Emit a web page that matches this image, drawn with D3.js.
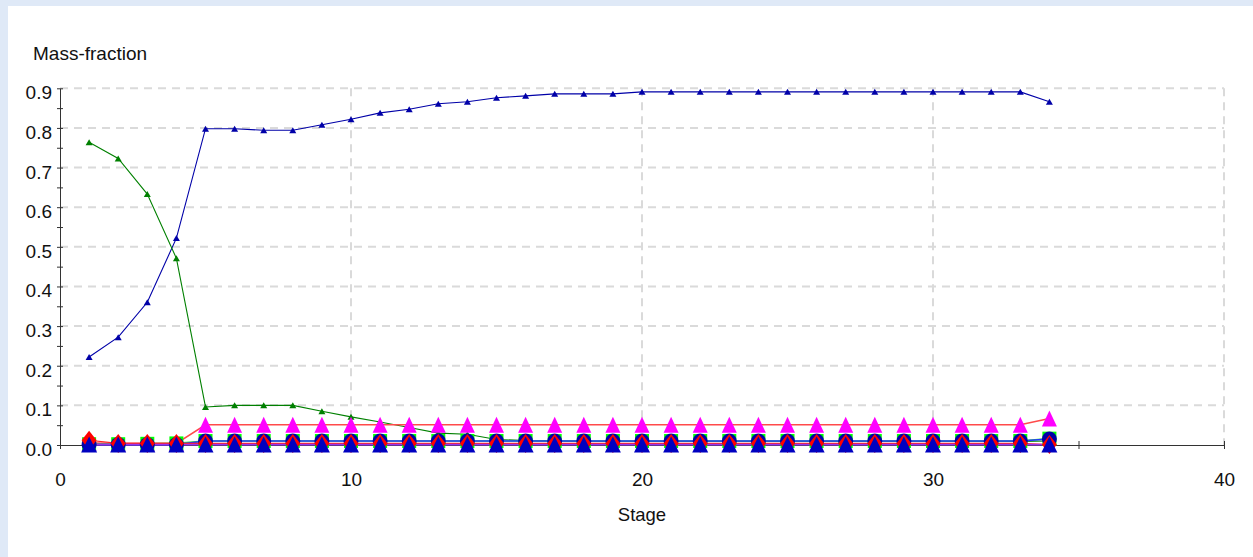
<!DOCTYPE html>
<html>
<head>
<meta charset="utf-8">
<script src="https://cdn.jsdelivr.net/npm/d3@7"></script>
<style>
  html, body { margin: 0; padding: 0; background: #dfe9f7; }
  svg { display: block; font-family: "Liberation Sans", Arial, sans-serif; }
</style>
</head>
<body>
<svg id="chart" width="1253" height="557"></svg>
<script>
// Stage numbers along the column
const stages = [1,2,3,4,5,6,7,8,9,10,11,12,13,14,15,16,17,18,19,20,21,22,23,24,25,26,27,28,29,30,31,32,33,34];

// Mass-fraction profiles per component
const seriesBlue = [0.222,0.272,0.360,0.522,0.798,0.798,0.794,0.794,0.808,0.822,0.838,0.847,0.861,0.866,0.876,0.881,0.886,0.886,0.886,0.891,0.891,0.891,0.891,0.891,0.891,0.891,0.891,0.891,0.891,0.891,0.891,0.891,0.891,0.866];
const seriesGreen = [0.764,0.723,0.633,0.471,0.096,0.100,0.100,0.100,0.085,0.071,0.058,0.044,0.030,0.027,0.014,0.011,0.010,0.009,0.009,0.009,0.009,0.009,0.009,0.009,0.009,0.009,0.009,0.009,0.009,0.009,0.009,0.009,0.009,0.010];
const seriesMagenta = [0.005,0.004,0.004,0.004,0.051,0.051,0.051,0.051,0.051,0.051,0.051,0.051,0.051,0.051,0.051,0.051,0.051,0.051,0.051,0.051,0.051,0.051,0.051,0.051,0.051,0.051,0.051,0.051,0.051,0.051,0.051,0.051,0.051,0.067];
const seriesLime = [0.002,0.002,0.003,0.004,0.010,0.010,0.010,0.010,0.010,0.010,0.010,0.010,0.010,0.010,0.010,0.010,0.010,0.010,0.010,0.010,0.010,0.010,0.010,0.010,0.010,0.010,0.010,0.010,0.010,0.010,0.010,0.010,0.010,0.016];
const seriesCircle = [0.001,0.001,0.001,0.001,0.010,0.010,0.010,0.010,0.010,0.010,0.010,0.010,0.010,0.010,0.010,0.010,0.010,0.010,0.010,0.010,0.010,0.010,0.010,0.010,0.010,0.010,0.010,0.010,0.010,0.010,0.010,0.010,0.010,0.015];
const seriesRed = [0.012,0.004,0.004,0.004,0.004,0.004,0.004,0.004,0.004,0.004,0.004,0.004,0.004,0.004,0.004,0.004,0.004,0.004,0.004,0.004,0.004,0.004,0.004,0.004,0.004,0.004,0.004,0.004,0.004,0.004,0.004,0.004,0.004,0.001];
const seriesBlueTri = [0.001,0.001,0.001,0.001,0.001,0.001,0.001,0.001,0.001,0.001,0.001,0.001,0.001,0.001,0.001,0.001,0.001,0.001,0.001,0.001,0.001,0.001,0.001,0.001,0.001,0.001,0.001,0.001,0.001,0.001,0.001,0.001,0.001,0.001];

// Axis ticks
const xTicks = [0,5,10,15,20,25,30,35,40];
const xLabels = [0,10,20,30,40];
const yTicks = [0,0.05,0.1,0.15,0.2,0.25,0.3,0.35,0.4,0.45,0.5,0.55,0.6,0.65,0.7,0.75,0.8,0.85,0.9];
const yLabels = [0,0.1,0.2,0.3,0.4,0.5,0.6,0.7,0.8,0.9];
const xGrid = [10,20,30,40];
const yGrid = [0.1,0.2,0.3,0.4,0.5,0.6,0.7,0.8,0.9];

const svg = d3.select("#chart");
svg.append("rect").attr("x", 8).attr("y", 6).attr("width", 1245).attr("height", 551).attr("fill", "#ffffff");

const x = d3.scaleLinear().domain([0, 40]).range([60, 1224]);
const y = d3.scaleLinear().domain([0, 0.9]).range([445, 88.3]);

// Dashed grid
const grid = svg.append("g").attr("stroke", "#dadada").attr("stroke-width", 2).attr("stroke-dasharray", "8,6");
grid.selectAll("line.h").data(yGrid).join("line").attr("class", "h")
  .attr("x1", x(0)).attr("x2", x(40)).attr("y1", d => y(d)).attr("y2", d => y(d));
grid.selectAll("line.v").data(xGrid).join("line").attr("class", "v")
  .attr("x1", d => x(d)).attr("x2", d => x(d)).attr("y1", y(0.9)).attr("y2", y(0));

// Axes
const fmtY = d3.format(".1f");
const yAxis = d3.axisLeft(y).tickValues(yTicks).tickSizeInner(3).tickSizeOuter(0).tickPadding(5)
  .tickFormat(d => yLabels.some(v => Math.abs(v - d) < 1e-9) ? fmtY(d) : "");
const gy = svg.append("g").attr("transform", `translate(${x(0)},0)`).call(yAxis);
gy.select(".domain").attr("stroke", "#333");
gy.selectAll(".tick line").attr("x1", 3).attr("x2", -3).attr("stroke", "#333");
gy.selectAll(".tick text").attr("font-size", 19).attr("fill", "#111").attr("dy", "0.55em")
  .attr("font-family", "Liberation Sans, Arial, sans-serif");

const xAxis = d3.axisBottom(x).tickValues(xTicks).tickSizeInner(4).tickSizeOuter(0).tickPadding(24)
  .tickFormat(d => xLabels.includes(d) ? String(d) : "");
const gx = svg.append("g").attr("transform", `translate(0,${y(0)})`).call(xAxis);
gx.select(".domain").attr("stroke", "#333");
gx.selectAll(".tick line").attr("y1", -4).attr("y2", 4).attr("stroke", "#333");
gx.selectAll(".tick text").attr("font-size", 19).attr("fill", "#111")
  .attr("font-family", "Liberation Sans, Arial, sans-serif");

svg.append("text").attr("x", 33).attr("y", 60).attr("font-size", 19).attr("fill", "#111").text("Mass-fraction");
svg.append("text").attr("x", x(20)).attr("y", 521).attr("text-anchor", "middle").attr("font-size", 18.5).attr("fill", "#111").text("Stage");

// Marker shapes
const tri = (w, h) => `M0,${-h / 2}L${w / 2},${h / 2}L${-w / 2},${h / 2}Z`;
const diamond = (w, h) => `M0,${-h}L${w},0L0,${h}L${-w},0Z`;
const square = s => `M${-s / 2},${-s / 2}h${s}v${s}h${-s}Z`;
const circle = r => `M${r},0A${r},${r} 0 1,1 ${-r},0A${r},${r} 0 1,1 ${r},0Z`;

const series = [
  { vals: seriesBlue, line: "#0000a8", lw: 1.1, fill: "#0000a8", shape: tri(7, 6) },
  { vals: seriesGreen, line: "#008000", lw: 1.1, fill: "#008000", shape: tri(7, 6) },
  { vals: seriesMagenta, line: "#ff4a4a", lw: 1.6, fill: "#ff00ff", shape: tri(15, 16) },
  { vals: seriesLime, line: "#33e633", lw: 1.6, fill: "#00ff00", shape: square(14) },
  { vals: seriesCircle, line: "#2233ff", lw: 1.6, fill: "#0000a8", shape: circle(7.5) },
  { vals: seriesRed, line: "#ff2020", lw: 1.2, fill: "#ff0000", shape: diamond(7.5, 9.5) },
  { vals: seriesBlueTri, line: "#9933ee", lw: 1.8, fill: "#0000c0", shape: tri(16, 16) }
];

const line = d3.line().x(d => x(d[0])).y(d => y(d[1]));

// Lines first, then the markers on top
const lines = svg.append("g").attr("fill", "none");
series.forEach(s => {
  lines.append("path").datum(stages.map((st, i) => [st, s.vals[i]]))
    .attr("d", line).attr("stroke", s.line).attr("stroke-width", s.lw);
});
series.forEach(s => {
  svg.append("g").selectAll("path").data(stages.map((st, i) => [st, s.vals[i]])).join("path")
    .attr("transform", d => `translate(${x(d[0])},${y(d[1])})`)
    .attr("d", s.shape).attr("fill", s.fill);
});
</script>
</body>
</html>
